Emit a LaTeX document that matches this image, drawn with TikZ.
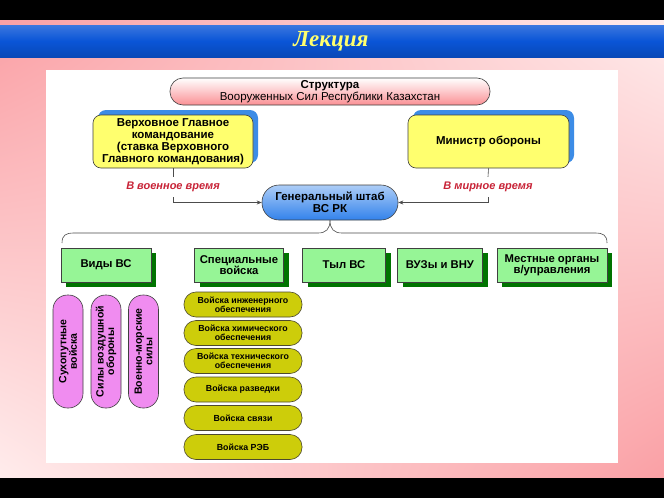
\documentclass[tikz,border=0pt]{standalone}
\usepackage{fontspec}
\setmainfont{Liberation Sans}
\newfontfamily\lecturefont{Liberation Serif}
\usetikzlibrary{shadows,shadings,arrows.meta}

\definecolor{bgpink}{RGB}{250,160,165}
\definecolor{bglight}{RGB}{255,236,236}
\definecolor{barblue}{RGB}{10,85,215}
\definecolor{titleyellow}{RGB}{255,255,110}
\definecolor{cmdyellow}{RGB}{255,255,110}
\definecolor{cmdshadow}{RGB}{60,140,230}
\definecolor{staffblue}{RGB}{50,130,235}
\definecolor{branchgreen}{RGB}{150,245,150}
\definecolor{branchshadow}{RGB}{0,115,0}
\definecolor{servicepink}{RGB}{240,140,240}
\definecolor{troopsolive}{RGB}{205,205,10}
\definecolor{periodred}{RGB}{200,35,55}

\tikzset{
    box/.style={draw=black!75, align=center, line width=0.6pt, inner sep=2pt,
        font=\bfseries\fontsize{11.5}{12}\selectfont},
    command/.style={box, rounded corners=8pt, fill=cmdyellow,
        minimum width=160pt, minimum height=53pt,
        general shadow={fill=cmdshadow, shadow xshift=5pt, shadow yshift=5pt}},
    branch/.style={box, fill=branchgreen, minimum height=34pt,
        font=\bfseries\fontsize{11.3}{11}\selectfont,
        general shadow={fill=branchshadow, shadow xshift=5pt, shadow yshift=-5pt}},
    service/.style={box, rounded corners=14.5pt, fill=servicepink, rotate=90,
        minimum width=113pt, minimum height=30pt,
        font=\bfseries\fontsize{10.5}{10.5}\selectfont},
    troops/.style={box, rounded corners=12pt, fill=troopsolive, draw=black!60!olive,
        minimum width=118pt, minimum height=25pt,
        font=\bfseries\fontsize{8.8}{9}\selectfont},
    period/.style={font=\bfseries\itshape\fontsize{11}{12}\selectfont,
        text=periodred, inner sep=5pt},
    link/.style={draw=black!70, line width=0.6pt},
    arrowlink/.style={link, -{Stealth[length=5pt,width=4pt]}}
}

\begin{document}
\begin{tikzpicture}[x=1pt, y=-1pt]
    \useasboundingbox (0,0) rectangle (664,498);
    % slide background
    \fill[black] (0,0) rectangle (664,498);
    \shade[upper left=bgpink, upper right=bglight, lower left=bglight, lower right=bgpink]
        (0,20) rectangle (664,477);
    \shade[top color=barblue!80!white, bottom color=barblue!85!black, middle color=barblue]
        (0,25) rectangle (664,57);
    \fill[white] (46,70) rectangle (618,463);
    \node[font=\lecturefont\bfseries\itshape\fontsize{23}{24}\selectfont, text=titleyellow]
        (lecture) at (331,41) {Лекция};

    \node[box, font=\fontsize{11.5}{12.5}\selectfont, rounded corners=13pt,
        top color=white, bottom color=bgpink!90!red, minimum width=320pt, minimum height=27pt]
        (struct) at (330,91.5) {\textbf{Структура}\\Вооруженных Сил Республики Казахстан};
    \node[command] (supreme) at (173,141.5)
        {Верховное Главное\\командование\\(ставка Верховного\\Главного командования)};
    \node[command, minimum width=161pt] (minister) at (488.5,141.5) {Министр обороны};
    \node[box, rounded corners=17pt, top color=staffblue!40!white, bottom color=staffblue,
        minimum width=136pt, minimum height=35pt] (staff) at (330,202.5) {Генеральный штаб\\ВС РК};

    \node[period] (wartime) at (173,187) {В военное время};
    \node[period] (peacetime) at (488,187) {В мирное время};
    \draw[link] (supreme.south) -- (wartime.north);
    \draw[arrowlink] (wartime.south) |- (staff.west);
    \draw[link] (minister.south) -- (peacetime.north);
    \draw[arrowlink] (peacetime.south) |- (staff.east);

    % brace under the General Staff
    \coordinate (braceL) at (62,243);
    \coordinate (braceR) at (607,243);
    \draw[link] (braceL) .. controls (62,235) and (66,233) .. (74,233) -- (318,233)
        .. controls (326,233) and (330,229) .. (staff.south);
    \draw[link] (braceR) .. controls (607,235) and (603,233) .. (595,233) -- (342,233)
        .. controls (334,233) and (330,229) .. (staff.south);

    \node[branch, minimum width=90pt] (types) at (106,265) {Виды ВС};
    \node[branch, minimum width=89pt] (special) at (239,265) {Специальные\\войска};
    \node[branch, minimum width=83pt] (rear) at (344,265) {Тыл ВС};
    \node[branch, minimum width=85pt] (univ) at (440,265) {ВУЗы и ВНУ};
    \node[branch, minimum width=110pt] (local) at (552,265) {Местные органы\\в/управления};

    \node[service] (land) at (68,351.5) {Сухопутные\\войска};
    \node[service] (air) at (106,351.5) {Силы воздушной\\обороны};
    \node[service] (navy) at (143.5,351.5) {Военно-морские\\силы};

    \node[troops] (engineer) at (243,304.5) {Войска инженерного\\обеспечения};
    \node[troops] (chemical) at (243,333) {Войска химического\\обеспечения};
    \node[troops] (technical) at (243,361) {Войска технического\\обеспечения};
    \node[troops] (recon) at (243,389.5) {Войска разведки};
    \node[troops] (signal) at (243,418) {Войска связи};
    \node[troops] (ew) at (243,447) {Войска РЭБ};
\end{tikzpicture}
\end{document}
